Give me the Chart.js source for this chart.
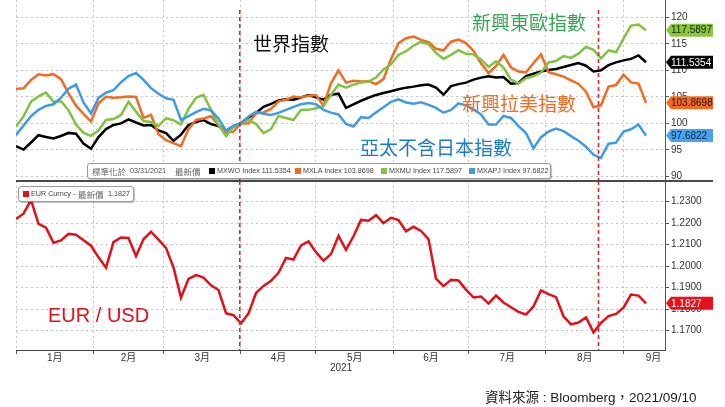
<!DOCTYPE html>
<html>
<head>
<meta charset="UTF-8">
<title>新興市場指數 與 EUR/USD</title>
<script src="https://cdn.jsdelivr.net/npm/chart.js@4.4.1/dist/chart.umd.min.js"></script>
<style>
  body { margin: 0; background: #fff; }
  #wrap { position: relative; width: 725px; height: 407px; overflow: hidden; font-family: "Liberation Sans", "Noto Sans CJK TC", sans-serif; }
  .pane { position: absolute; left: 0; width: 725px; }
  .note { position: absolute; white-space: nowrap; font-family: "Noto Sans CJK TC", sans-serif; font-size: 19px; line-height: 1; }
  .box { position: absolute; border: 1px solid #9a9a9a; border-radius: 3px; background: #fff; box-shadow: 1px 1px 1px rgba(0,0,0,.25);
         font: 7.2px "Liberation Sans", sans-serif; color: #444; }
  .box span { position: absolute; top: 0; line-height: 14px; white-space: nowrap; }
  .box .cjk { font-family: "Noto Sans CJK TC", sans-serif; font-size: 8.5px; color: #666; }
  .sq { display: inline-block; width: 6px; height: 6px; margin-right: 2px; vertical-align: -0.5px; }
</style>
</head>
<body>
<div id="wrap">
  <div class="pane" style="top:0;height:181px"><canvas id="chart-top"></canvas></div>
  <div class="pane" style="top:181px;height:226px"><canvas id="chart-bottom"></canvas></div>

  <div style="position:absolute;left:16px;top:180px;width:697px;height:2px;background:#4a4a4a"></div>

  <div class="note" style="left:253px;top:33px;color:#111">世界指數</div>
  <div class="note" style="left:472px;top:12px;color:#36a552">新興東歐指數</div>
  <div class="note" style="left:462px;top:93px;color:#ee6d22">新興拉美指數</div>
  <div class="note" style="left:360px;top:137px;color:#1c7bcc">亞太不含日本指數</div>
  <div class="note" style="left:48px;top:305px;color:#e0121b;font-family:'Liberation Sans',sans-serif;font-size:20px">EUR / USD</div>

  <div class="box" style="left:87px;top:163px;width:462px;height:14px">
    <span class="cjk" style="left:4px">標準化於</span>
    <span style="left:42px">03/31/2021</span>
    <span class="cjk" style="left:87px">最新價</span>
    <span style="left:121px"><i class="sq" style="background:#000"></i>MXWO Index 111.5354</span>
    <span style="left:207px"><i class="sq" style="background:#f26b21"></i>MXLA Index 103.8698</span>
    <span style="left:293px"><i class="sq" style="background:#80c342"></i>MXMU Index 117.5897</span>
    <span style="left:381px"><i class="sq" style="background:#3f9ae8"></i>MXAPJ Index 97.6822</span>
  </div>
  <div class="box" style="left:18px;top:186px;width:114px;height:14px">
    <span style="left:4px"><i class="sq" style="background:#e3101a"></i>EUR Curncy  -</span>
    <span class="cjk" style="left:59px">最新價</span>
    <span style="left:89px">1.1827</span>
  </div>

  <div style="position:absolute;left:330px;top:362px;font-size:10px;color:#333">2021</div>
  <div style="position:absolute;left:485px;top:386px;font-size:13.5px;color:#222;font-family:'Liberation Sans','Noto Sans CJK TC',sans-serif">資料來源 : Bloomberg，2021/09/10</div>
</div>

<script type="text/javascript" charset="utf-8">
// day of year 2021 (0 = Jan 1), one sample every 3 days
var days = [0,3,6,9,12,15,18,21,24,27,30,33,36,39,42,45,48,51,54,57,
            60,63,66,69,72,75,78,81,84,87,90,93,96,99,102,105,108,111,114,117,
            120,123,126,129,132,135,138,141,144,147,150,153,156,159,162,165,168,171,174,177,
            180,183,186,189,192,195,198,201,204,207,210,213,216,219,222,225,228,231,234,237,
            240,243,246,249,252];

// 世界指數 MXWO (normalised 03/31/2021 = 100)
var mxwo = [95.67,95.04,96.37,97.75,97.42,97.14,97.61,98.19,98.02,96.18,
            95.19,97.39,98.91,99.68,99.98,100.76,100.15,99.60,99.68,98.66,
            98.15,96.70,97.86,99.68,100.25,100.61,99.87,99.48,98.63,99.39,
            100.00,101.13,101.97,103.11,103.68,104.33,104.54,104.45,104.87,105.32,
            104.90,104.48,105.40,105.59,102.92,103.59,104.26,104.83,105.36,105.73,
            106.05,106.45,106.74,106.93,107.19,107.31,106.74,105.40,107.02,107.40,
            107.69,108.26,108.63,108.89,108.65,108.74,107.50,107.63,108.93,109.37,
            109.81,110.06,110.27,110.65,111.01,111.37,110.88,109.81,110.02,110.99,
            111.51,111.89,112.18,112.82,111.5354];

// 新興拉美指數 MXLA
var mxla = [106.49,106.62,108.19,109.27,109.03,109.29,108.34,105.67,103.34,101.77,
            100.32,103.80,105.02,104.83,104.92,105.06,104.98,101.01,101.58,97.96,
            96.81,96.24,95.67,98.91,100.63,100.90,101.34,99.64,98.28,98.42,
            100.00,99.96,101.89,102.06,102.73,104.16,104.45,105.06,104.90,105.23,
            105.34,103.30,107.60,110.00,107.69,108.03,107.92,107.96,107.40,108.36,
            112.16,115.13,116.09,116.39,115.76,115.32,114.08,113.80,115.42,115.80,
            115.17,113.66,111.35,109.50,110.80,112.92,110.55,109.79,109.60,111.41,
            113.05,109.64,109.26,108.82,108.11,107.44,105.97,103.05,103.40,106.93,
            107.23,109.18,107.73,107.50,103.8698];

// 新興東歐指數 MXMU
var mxmu = [99.35,101.30,104.10,105.08,105.82,104.06,104.18,102.48,99.75,98.19,
            97.63,98.63,100.63,100.80,101.58,104.06,102.21,100.44,100.25,99.48,
            100.97,100.59,99.77,102.73,104.83,105.40,102.54,99.73,97.58,99.29,
            100.00,100.63,99.87,98.15,98.91,101.39,101.01,100.63,102.54,102.54,
            102.86,103.30,105.40,107.31,106.74,107.31,107.69,107.88,108.65,110.17,
            111.13,112.94,113.61,114.64,115.42,114.94,113.32,112.16,112.94,113.80,
            113.13,113.03,112.08,110.65,111.70,110.55,108.26,107.50,108.53,108.89,
            109.60,111.51,111.76,112.69,112.37,113.17,114.47,113.89,112.27,113.80,
            113.42,115.99,118.47,118.66,117.5897];

// 亞太不含日本指數 MXAPJ
var mxapj = [97.77,99.58,101.35,102.54,103.28,103.59,104.83,106.55,107.31,103.93,
             101.87,104.79,105.78,106.26,107.77,108.93,109.50,108.21,106.64,105.59,
             104.73,104.45,100.63,101.35,102.10,102.73,102.42,100.90,98.61,99.58,
             100.00,101.30,102.16,101.81,101.58,101.97,102.54,103.11,103.59,103.82,
             103.63,102.54,102.02,101.68,99.87,99.39,101.16,101.01,102.06,103.02,
             104.06,104.54,103.93,103.68,103.97,103.49,102.92,102.00,102.54,103.78,
             103.40,102.63,101.68,99.77,99.77,101.39,101.01,99.48,98.15,95.29,
             97.39,98.44,99.01,98.53,97.58,96.72,95.57,94.05,93.47,96.15,
             96.34,98.44,98.87,99.77,97.6822];

// EUR / USD
var eurusd = [1.2219,1.2244,1.2308,1.2197,1.2179,1.2109,1.2120,1.2150,1.2146,1.2120,
              1.2095,1.2041,1.1993,1.2112,1.2133,1.2131,1.2047,1.2125,1.2160,1.2123,
              1.2085,1.1994,1.1853,1.1941,1.1958,1.1947,1.1911,1.1889,1.1781,1.1772,
              1.1734,1.1780,1.1875,1.1908,1.1932,1.1969,1.2038,1.2031,1.2096,1.2115,
              1.2065,1.2025,1.2056,1.2141,1.2076,1.2139,1.2215,1.2211,1.2237,1.2200,
              1.2225,1.2214,1.2162,1.2183,1.2164,1.2126,1.1942,1.1907,1.1936,1.1933,
              1.1891,1.1854,1.1859,1.1826,1.1863,1.1831,1.1809,1.1787,1.1775,1.1813,
              1.1887,1.1870,1.1856,1.1767,1.1729,1.1738,1.1762,1.1692,1.1736,1.1768,
              1.1778,1.1807,1.1868,1.1863,1.1827];

// axis: month boundaries (grid) and month label positions
var monthStarts = [0,31,59,90,120,151,181,212,243];
var monthMids   = [15.5,45,74.5,105,135.5,166,196.5,227.5,255];
var monthLabels = ["1月","2月","3月","4月","5月","6月","7月","8月","9月"];
var topTicks = [90,95,100,105,110,115,120];
var eurTicks = [1.17,1.18,1.19,1.20,1.21,1.22,1.23];
// red dashed markers: 03/31 and late August
var markerDays = [89.5,233];

var X_MAX = 259.6;
var tickFont = { family: "'Liberation Sans', 'Noto Sans CJK TC', sans-serif", size: 10 };

function pts(arr) {
    return days.map(function (d, i) { return { x: d, y: arr[i] }; });
}

var markPlugin = {
    id: 'marks',
    afterDatasetsDraw: function (chart, args, opts) {
        var ctx = chart.ctx, area = chart.chartArea, xs = chart.scales.x, ys = chart.scales.y;
        ctx.save();
        ctx.strokeStyle = '#d42a2a';
        ctx.lineWidth = 1.6;
        ctx.setLineDash([4, 3]);
        markerDays.forEach(function (d) {
            var px = xs.getPixelForValue(d);
            ctx.beginPath();
            ctx.moveTo(px, area.top + opts.top);
            ctx.lineTo(px, area.bottom);
            ctx.stroke();
        });
        ctx.setLineDash([]);
        // last value tags on the right axis
        chart.data.datasets.forEach(function (ds) {
            var last = ds.data[ds.data.length - 1].y;
            var py = ys.getPixelForValue(last);
            var x0 = area.right + 1;
            ctx.fillStyle = ds.tagBg;
            ctx.beginPath();
            ctx.moveTo(x0, py);
            ctx.lineTo(x0 + 5, py - 6.5);
            ctx.lineTo(713, py - 6.5);
            ctx.lineTo(713, py + 6.5);
            ctx.lineTo(x0 + 5, py + 6.5);
            ctx.closePath();
            ctx.fill();
            ctx.fillStyle = ds.tagText;
            ctx.font = "10px 'Liberation Sans', sans-serif";
            ctx.textBaseline = 'middle';
            ctx.textAlign = 'left';
            ctx.fillText(last.toFixed(4), x0 + 5, py + 0.5);
        });
        ctx.restore();
    }
};

function yAxis(min, max, ticks, fmt) {
    return {
        position: 'right', min: min, max: max,
        afterBuildTicks: function (s) { s.ticks = ticks.map(function (v) { return { value: v }; }); },
        afterFit: function (s) { s.width = 60; s.paddingTop = 0; s.paddingBottom = 0; },
        grid: { color: '#c4c4c4', lineWidth: 1, drawTicks: true, tickLength: 4, tickColor: '#555' },
        border: { display: true, color: '#555', width: 1, dash: [2, 3] },
        ticks: { font: tickFont, color: '#333', padding: 2, callback: fmt }
    };
}

function gridAxis(ticksOn) {
    return {
        type: 'linear', position: 'bottom', min: 0, max: X_MAX,
        afterBuildTicks: function (s) { s.ticks = monthStarts.map(function (v) { return { value: v }; }); },
        afterFit: function (s) { s.height = 0; s.paddingLeft = 0; s.paddingRight = 0; },
        grid: { color: '#c4c4c4', lineWidth: 1, drawTicks: ticksOn, tickLength: 4, tickColor: '#555' },
        border: { display: ticksOn, color: '#444', width: 1, dash: [2, 3] },
        ticks: { display: false }
    };
}

function line(label, arr, color, bg, txt) {
    return { label: label, data: pts(arr), borderColor: color, backgroundColor: color,
             borderWidth: 2.5, pointRadius: 0, tension: 0, tagBg: bg, tagText: txt };
}

window.onload = function () {
    var topCfg = {
        type: 'line',
        data: {
            datasets: [
                line('MXAPJ Index', mxapj, '#3f9ae8', '#4aa3ef', '#0b2340'),
                line('MXMU Index', mxmu, '#80c342', '#8cc63f', '#10230a'),
                line('MXLA Index', mxla, '#f26b21', '#f26b21', '#2a0f00'),
                line('MXWO Index', mxwo, '#000000', '#000000', '#ffffff')
            ]
        },
        options: {
            responsive: true, maintainAspectRatio: false, animation: false,
            layout: { padding: { left: 16, right: 0, top: 0, bottom: 0 } },
            plugins: { legend: { display: false }, tooltip: { enabled: false }, marks: { top: 10 } },
            scales: {
                x: gridAxis(false),
                y: yAxis(89.1, 123.3, topTicks, function (v) { return String(v); })
            }
        },
        plugins: [markPlugin]
    };

    var bottomCfg = {
        type: 'line',
        data: {
            datasets: [ line('EUR Curncy', eurusd, '#e3101a', '#e8101a', '#ffffff') ]
        },
        options: {
            responsive: true, maintainAspectRatio: false, animation: false,
            layout: { padding: { left: 16, right: 0, top: 0, bottom: 0 } },
            plugins: { legend: { display: false }, tooltip: { enabled: false }, marks: { top: 0 } },
            scales: {
                x: gridAxis(true),
                xl: {
                    type: 'linear', position: 'bottom', min: 0, max: X_MAX,
                    afterBuildTicks: function (s) { s.ticks = monthMids.map(function (v) { return { value: v }; }); },
                    afterFit: function (s) { s.height = 57; s.paddingLeft = 0; s.paddingRight = 0; },
                    grid: { display: false, drawTicks: false },
                    border: { display: false },
                    ticks: { font: tickFont, color: '#333', padding: 2, autoSkip: false, maxRotation: 0,
                             callback: function (v, i) { return monthLabels[i]; } }
                },
                y: yAxis(1.161, 1.2396, eurTicks, function (v) { return v.toFixed(4); })
            }
        },
        plugins: [markPlugin]
    };

    window.topChart = new Chart(document.getElementById('chart-top').getContext('2d'), topCfg);
    window.bottomChart = new Chart(document.getElementById('chart-bottom').getContext('2d'), bottomCfg);
};
</script>
</body>
</html>
